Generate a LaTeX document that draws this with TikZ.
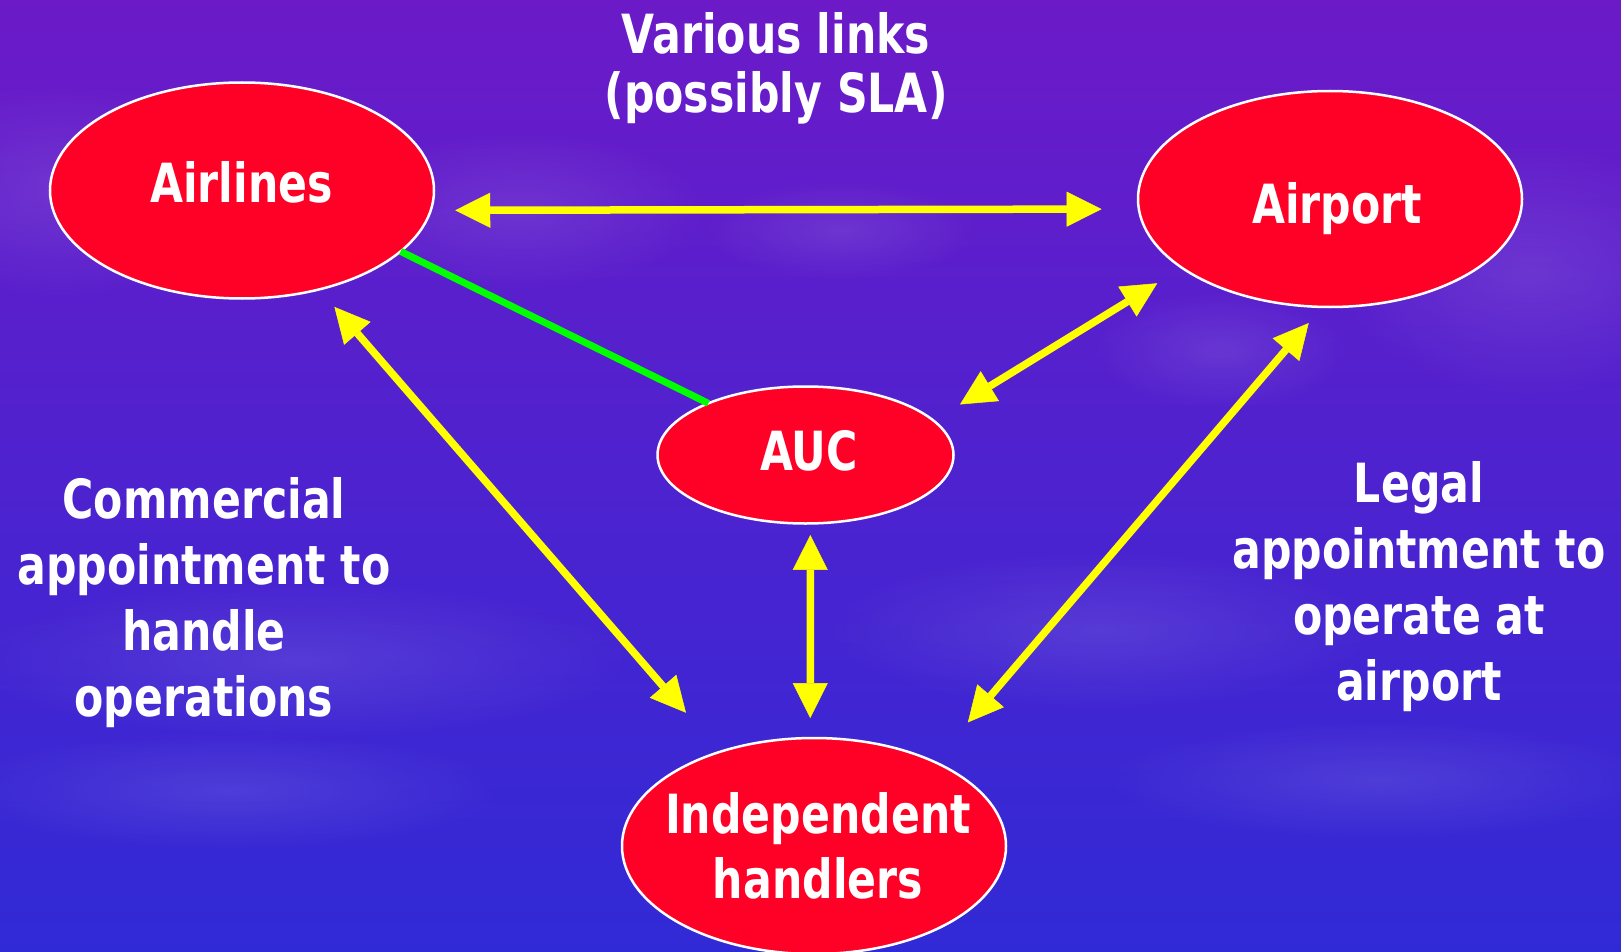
\documentclass[tikz,border=0pt]{standalone}
\usepackage{fontspec}
\setmainfont{DejaVu Sans}[FakeStretch=0.79]
\usetikzlibrary{arrows.meta,shapes.geometric,fadings}
\definecolor{nodered}{RGB}{255,0,38}
\definecolor{skytop}{RGB}{108,26,200}
\definecolor{skymid}{RGB}{78,46,207}
\definecolor{skybot}{RGB}{48,42,214}
\definecolor{arrowyellow}{RGB}{255,255,0}
\definecolor{linkgreen}{RGB}{0,255,0}
\tikzfading[name=cloudfade, inner color=transparent!0, outer color=transparent!100]
\tikzset{
  oval/.style={ellipse, draw=white, line width=2.5pt, fill=nodered, inner sep=0pt, outer sep=0pt},
  lbl/.style={text=white, font=\fontsize{54}{66}\selectfont\bfseries, inner sep=0pt, align=center},
  link/.style={draw=arrowyellow, line width=7.5pt, {Triangle[length=35pt,width=35pt,line width=0.5pt]}-{Triangle[length=35pt,width=35pt,line width=0.5pt]}},
  greenlink/.style={draw=linkgreen, line width=7pt},
  skycloud/.style={white, opacity=0.10, path fading=cloudfade},
}
\begin{document}
\begin{tikzpicture}[x=1pt,y=-1pt]
\useasboundingbox (0,0) rectangle (1621,952);
\shade[top color=skytop, middle color=skymid, bottom color=skybot] (0,0) rectangle (1621,952);
% clouds
\fill[skycloud] (60,190) ellipse [x radius=180, y radius=110];
\fill[skycloud] (520,210) ellipse [x radius=190, y radius=80];
\fill[skycloud] (840,230) ellipse [x radius=140, y radius=50];
\fill[skycloud] (1530,270) ellipse [x radius=200, y radius=130];
\fill[skycloud] (1220,350) ellipse [x radius=130, y radius=60];
\fill[skycloud] (300,660) ellipse [x radius=340, y radius=80];
\fill[skycloud] (1100,630) ellipse [x radius=280, y radius=80];
\fill[skycloud] (230,790) ellipse [x radius=280, y radius=60];
\fill[skycloud] (1380,780) ellipse [x radius=280, y radius=60];
% nodes
\node[oval, minimum width=384pt, minimum height=216pt] (airlines) at (242,190.5) {};
\node[oval, minimum width=384pt, minimum height=216pt] (airport) at (1330,199) {};
\node[oval, minimum width=296pt, minimum height=137pt] (auc) at (805.5,455) {};
\node[oval, minimum width=384pt, minimum height=216pt] (handlers) at (814,846) {};
% labels
\node[lbl, anchor=base] (airlinesText) at (241.5,202) {Airlines};
\node[lbl, anchor=base] (airportText) at (1337,223) {Airport};
\node[lbl, anchor=base] (aucText) at (809,470) {AUC};
\node[lbl, anchor=north, font=\fontsize{54}{65}\selectfont\bfseries] (handlersText) at (818,792) {Independent\\handlers};
\node[lbl, anchor=north, font=\fontsize{54}{59}\selectfont\bfseries] (linksText) at (776,12) {Various links\\(possibly SLA)};
\node[lbl, anchor=north] (commText) at (204,477) {Commercial\\appointment to\\handle\\operations};
\node[lbl, anchor=north] (legalText) at (1419,461) {Legal\\appointment to\\operate at\\airport};
% connectors
\draw[greenlink] (airlines.-21.5) -- (auc.152);
\draw[link, shorten <=24.5pt, shorten >=37.2pt] (airlines.-6.2) -- (airport.183.6);
\draw[link, shorten <=23.2pt, shorten >=51.8pt] (airlines.-52.2) -- (handlers.135.4);
\draw[link, shorten <=21.2pt, shorten >=51.8pt] (airport.266.7) -- (handlers.35.4);
\draw[link, shorten <=31pt, shorten >=29.3pt] (auc.15.9) -- (airport.205);
\draw[link, shorten <=11.5pt, shorten >=20pt] (auc.-86.2) -- (handlers.92.1);
\end{tikzpicture}
\end{document}
